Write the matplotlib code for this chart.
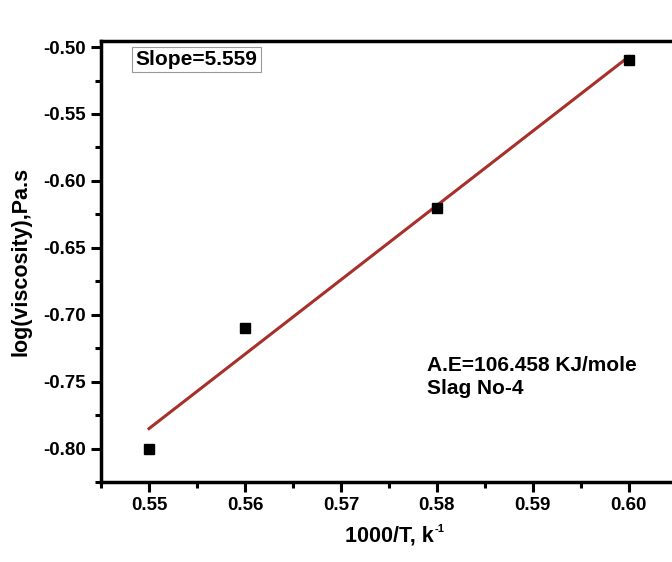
import matplotlib
matplotlib.use('Agg')
import matplotlib.pyplot as plt
from matplotlib.ticker import MultipleLocator, FormatStrFormatter
import numpy as np

plt.rcParams['font.family'] = ['Liberation Sans', 'DejaVu Sans']
plt.rcParams['font.weight'] = 'bold'

# data
inv_T = [0.55, 0.56, 0.58, 0.60]
log_visc = [-0.80, -0.71, -0.62, -0.51]
slope_text = 'Slope=5.559'
note_text = 'A.E=106.458 KJ/mole\nSlag No-4'

fig = plt.figure(figsize=(6.72, 5.62), dpi=100)
ax = fig.add_axes([0.1503, 0.1423, 0.857, 0.7847])

# linear fit
k, b = np.polyfit(inv_T, log_visc, 1)
xf = np.array([min(inv_T), max(inv_T)])
ax.plot(xf, k * xf + b, color='#a8302a', lw=2.2, zorder=2)
ax.plot(inv_T, log_visc, 's', color='black', ms=7, zorder=3)

ax.set_xlim(0.545, 0.605)
ax.set_ylim(-0.825, -0.4955)
ax.xaxis.set_major_locator(MultipleLocator(0.01))
ax.xaxis.set_minor_locator(MultipleLocator(0.005))
ax.yaxis.set_major_locator(MultipleLocator(0.05))
ax.yaxis.set_minor_locator(MultipleLocator(0.025))
ax.xaxis.set_major_formatter(FormatStrFormatter('%.2f'))
ax.yaxis.set_major_formatter(FormatStrFormatter('%.2f'))

for s in ax.spines.values():
    s.set_linewidth(2.5)
ax.tick_params(which='major', direction='out', length=7, width=2.2, labelsize=13.5, pad=4)
ax.tick_params(which='minor', direction='out', length=4, width=2.2)
ax.tick_params(top=False, right=False)

ax.set_xlabel('1000/T, k', fontsize=15.5, fontweight='bold', labelpad=8)
ax.set_ylabel('log(viscosity),Pa.s', fontsize=15.5, fontweight='bold', labelpad=8)
# small superscript after the x label
ax.annotate('-1', xy=(1, 1), xycoords=ax.xaxis.label, xytext=(1, 1),
            textcoords='offset points', fontsize=8, fontweight='bold',
            ha='left', va='top')

ax.text(0.06, 0.958, slope_text, transform=ax.transAxes, fontsize=15,
        fontweight='bold', va='center', ha='left',
        bbox=dict(boxstyle='square,pad=0.15', fc='white', ec='#999999', lw=0.8))
ax.text(0.566, 0.286, note_text, transform=ax.transAxes, fontsize=15,
        fontweight='bold', va='top', ha='left', linespacing=1.25)

fig.savefig('out.png', dpi=100)
